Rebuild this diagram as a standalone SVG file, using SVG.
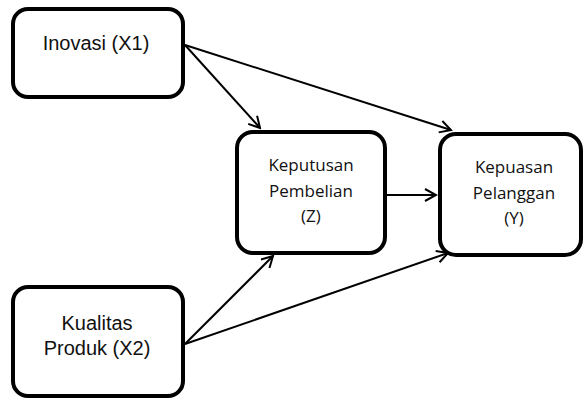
<svg xmlns="http://www.w3.org/2000/svg" width="584" height="400" viewBox="0 0 584 400">
<style>
.box{fill:#fff;stroke:#000;stroke-width:4}
.a{font-family:"Liberation Sans",Arial,sans-serif;font-size:20px;fill:#111;text-anchor:middle}
.c{font-family:"Open Sans","Noto Sans",sans-serif;font-size:17px;fill:#111;text-anchor:middle}
.ln{stroke:#000;stroke-width:2;fill:none;marker-end:url(#arr)}
</style>
<defs>
<marker id="arr" markerWidth="14" markerHeight="14" refX="12" refY="7" orient="auto" markerUnits="userSpaceOnUse">
<polyline points="1,1 12,7 1,13" fill="none" stroke="#000" stroke-width="2"/>
</marker>
</defs>
<rect width="584" height="400" fill="#fff"/>
<g id="connectors">
<line class="ln" x1="185" y1="45" x2="260" y2="128"/>
<line class="ln" x1="185" y1="45" x2="451" y2="130"/>
<line class="ln" x1="387" y1="195" x2="436" y2="195"/>
<line class="ln" x1="185" y1="344" x2="273" y2="256"/>
<line class="ln" x1="185" y1="344" x2="448" y2="253"/>
</g>
<g id="inovasi">
<rect class="box" x="13" y="9" width="170" height="88" rx="15"/>
<text class="a" x="96" y="50">Inovasi (X1)</text>
</g>
<g id="keputusan">
<rect class="box" x="237" y="132" width="148" height="121" rx="16"/>
<text class="c" x="311" y="171">Keputusan</text>
<text class="c" x="311" y="197">Pembelian</text>
<text class="c" x="311" y="222">(Z)</text>
</g>
<g id="kepuasan">
<rect class="box" x="440" y="134" width="141" height="121" rx="16"/>
<text class="c" x="514" y="173">Kepuasan</text>
<text class="c" x="514" y="199">Pelanggan</text>
<text class="c" x="514" y="224">(Y)</text>
</g>
<g id="kualitas">
<rect class="box" x="13" y="287" width="170" height="109" rx="15"/>
<text class="a" x="97" y="330">Kualitas</text>
<text class="a" x="97" y="355">Produk (X2)</text>
</g>
</svg>
